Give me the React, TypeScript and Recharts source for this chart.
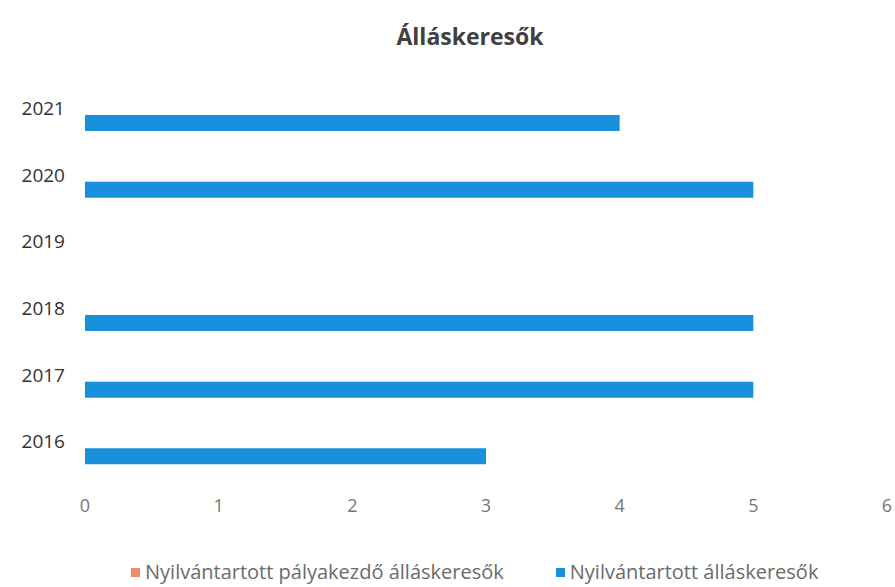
import React from 'react';
import { BarChart, Bar, XAxis, YAxis, Legend } from 'recharts';

const years = ['2016', '2017', '2018', '2019', '2020', '2021'];
const palyakezdo = [0, 0, 0, 0, 0, 0];
const osszes = [3, 5, 5, 0, 5, 4];
const xTicks = [0, 1, 2, 3, 4, 5, 6];

const data = years.map((year, i) => ({
  year,
  palyakezdo: palyakezdo[i],
  osszes: osszes[i],
}));

const FONT = '"Open Sans", sans-serif';

function renderLegend(props: any) {
  const { payload } = props;
  return (
    <div style={{ display: 'flex', fontFamily: FONT, fontSize: 20, color: '#6b6b6b', lineHeight: '26px' }}>
      {payload.map((entry: any, i: number) => (
        <div
          key={entry.value}
          style={{ display: 'flex', alignItems: 'center', marginLeft: i === 0 ? 131 : 52 }}
        >
          <span style={{ width: 9, height: 9, background: entry.color, marginRight: 5, display: 'inline-block' }} />
          <span>{entry.value}</span>
        </div>
      ))}
    </div>
  );
}

export default function App() {
  return (
    <div style={{ position: 'relative', width: 895, height: 587, background: '#fff' }}>
      <style>{'body{margin:0;overflow:hidden}'}</style>
      <div
        style={{
          position: 'absolute',
          top: 20,
          left: 0,
          width: 940,
          textAlign: 'center',
          fontFamily: FONT,
          fontWeight: 700,
          fontSize: 23,
          color: '#404040',
        }}
      >
        Álláskeresők
      </div>
      <BarChart
        width={895}
        height={587}
        data={data}
        layout="vertical"
        margin={{ top: 75, right: 8, bottom: 0, left: 0 }}
        barSize={16}
        barGap={14}
      >
        <XAxis
          type="number"
          domain={[0, 6]}
          ticks={xTicks}
          axisLine={false}
          tickLine={false}
          tickMargin={18}
          height={84}
          tick={{ fill: '#777', fontSize: 18, fontFamily: FONT }}
        />
        <YAxis
          type="category"
          dataKey="year"
          reversed
          width={85}
          axisLine={false}
          tickLine={false}
          tickMargin={14}
          tick={{ fill: '#333', fontSize: 19, fontFamily: FONT }}
        />
        <Legend verticalAlign="bottom" align="left" height={28} content={renderLegend} />
        <Bar dataKey="palyakezdo" name="Nyilvántartott pályakezdő álláskeresők" fill="#f08a6e" isAnimationActive={false} />
        <Bar dataKey="osszes" name="Nyilvántartott álláskeresők" fill="#1a90dc" isAnimationActive={false} />
      </BarChart>
    </div>
  );
}
